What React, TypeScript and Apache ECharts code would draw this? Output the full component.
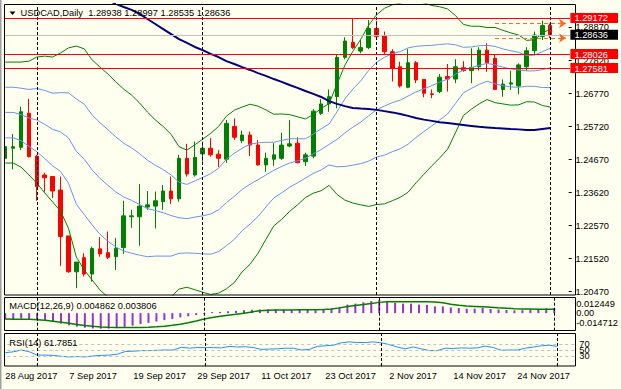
import React, { useEffect, useRef } from 'react';
import * as echarts from 'echarts';

const dates = [
  '28 Aug 2017', '29 Aug 2017', '30 Aug 2017', '31 Aug 2017', '1 Sep 2017', '4 Sep 2017', '5 Sep 2017', '6 Sep 2017', '7 Sep 2017', '8 Sep 2017',
  '11 Sep 2017', '12 Sep 2017', '13 Sep 2017', '14 Sep 2017', '15 Sep 2017', '18 Sep 2017', '19 Sep 2017', '20 Sep 2017', '21 Sep 2017', '22 Sep 2017',
  '25 Sep 2017', '26 Sep 2017', '27 Sep 2017', '28 Sep 2017', '29 Sep 2017', '2 Oct 2017', '3 Oct 2017', '4 Oct 2017', '5 Oct 2017', '6 Oct 2017',
  '9 Oct 2017', '10 Oct 2017', '11 Oct 2017', '12 Oct 2017', '13 Oct 2017', '16 Oct 2017', '17 Oct 2017', '18 Oct 2017', '19 Oct 2017', '20 Oct 2017',
  '23 Oct 2017', '24 Oct 2017', '25 Oct 2017', '26 Oct 2017', '27 Oct 2017', '30 Oct 2017', '31 Oct 2017', '1 Nov 2017', '2 Nov 2017', '3 Nov 2017',
  '6 Nov 2017', '7 Nov 2017', '8 Nov 2017', '9 Nov 2017', '10 Nov 2017', '13 Nov 2017', '14 Nov 2017', '15 Nov 2017', '16 Nov 2017', '17 Nov 2017',
  '20 Nov 2017', '21 Nov 2017', '22 Nov 2017', '23 Nov 2017', '24 Nov 2017', '27 Nov 2017', '28 Nov 2017', '29 Nov 2017', '30 Nov 2017', '1 Dec 2017'
];

const open = [1.2471, 1.2503, 1.2506, 1.2614, 1.2478, 1.2418, 1.2413, 1.2370, 1.2224, 1.2110, 1.2155, 1.2103, 1.2183, 1.2171, 1.2158, 1.2187, 1.2285, 1.2285, 1.2316, 1.2319, 1.2333, 1.2367, 1.2342, 1.2471, 1.2418, 1.2485, 1.2503, 1.2484, 1.2468, 1.2572, 1.2527, 1.2545, 1.2513, 1.2450, 1.2468, 1.2471, 1.2510, 1.2519, 1.2460, 1.2478, 1.2614, 1.2644, 1.2667, 1.2792, 1.2840, 1.2812, 1.2823, 1.2884, 1.2860, 1.2810, 1.2762, 1.2697, 1.2775, 1.2722, 1.2676, 1.2683, 1.2731, 1.2723, 1.2759, 1.2750, 1.2762, 1.2815, 1.2789, 1.2690, 1.2707, 1.2701, 1.2762, 1.2813, 1.2858, 1.28938];
const high = [1.2529, 1.2548, 1.2635, 1.2660, 1.2482, 1.2425, 1.2413, 1.2413, 1.2224, 1.2141, 1.2169, 1.2190, 1.2220, 1.2238, 1.2217, 1.2336, 1.2307, 1.2389, 1.2367, 1.2365, 1.2386, 1.2413, 1.2482, 1.2517, 1.2524, 1.2524, 1.2535, 1.2497, 1.2593, 1.2598, 1.2559, 1.2556, 1.2529, 1.2489, 1.2519, 1.2552, 1.2593, 1.2538, 1.2489, 1.2627, 1.2659, 1.2690, 1.2800, 1.2856, 1.2916, 1.2849, 1.2911, 1.2908, 1.2874, 1.2818, 1.2778, 1.2818, 1.2780, 1.2722, 1.2690, 1.2739, 1.2771, 1.2786, 1.2780, 1.2821, 1.2824, 1.2837, 1.2800, 1.2722, 1.2750, 1.2773, 1.2824, 1.2874, 1.2909, 1.28997];
const low = [1.2443, 1.2436, 1.2497, 1.2474, 1.2336, 1.2365, 1.2345, 1.2129, 1.2107, 1.2058, 1.2095, 1.2079, 1.2158, 1.2150, 1.2116, 1.2167, 1.2250, 1.2193, 1.2307, 1.2248, 1.2307, 1.2326, 1.2333, 1.2413, 1.2413, 1.2460, 1.2476, 1.2444, 1.2457, 1.2529, 1.2519, 1.2478, 1.2448, 1.2428, 1.2447, 1.2466, 1.2506, 1.2455, 1.2447, 1.2471, 1.2609, 1.2619, 1.2630, 1.2786, 1.2818, 1.2805, 1.2818, 1.2856, 1.2800, 1.2715, 1.2696, 1.2694, 1.2710, 1.2665, 1.2662, 1.2678, 1.2683, 1.2710, 1.2746, 1.2710, 1.2750, 1.2746, 1.2688, 1.2667, 1.2688, 1.2675, 1.2750, 1.2803, 1.2847, 1.28535];
const close = [1.2508, 1.2508, 1.2619, 1.2476, 1.2381, 1.2409, 1.2367, 1.2222, 1.2110, 1.2141, 1.2103, 1.2184, 1.2167, 1.2156, 1.2185, 1.2288, 1.2288, 1.2319, 1.2323, 1.2336, 1.2367, 1.2342, 1.2471, 1.2421, 1.2474, 1.2503, 1.2482, 1.2471, 1.2582, 1.2538, 1.2545, 1.2513, 1.2450, 1.2471, 1.2482, 1.2513, 1.2517, 1.2457, 1.2482, 1.2621, 1.2644, 1.2667, 1.2792, 1.2844, 1.2823, 1.2823, 1.2884, 1.2858, 1.2810, 1.2757, 1.2701, 1.2775, 1.2720, 1.2678, 1.2674, 1.2729, 1.2723, 1.2762, 1.2750, 1.2760, 1.2815, 1.2775, 1.2690, 1.2707, 1.2711, 1.2768, 1.2813, 1.2863, 1.2893, 1.28636];

const bbUpper2 = [1.2777, 1.2777, 1.2777, 1.2780, 1.2793, 1.2796, 1.2793, 1.2806, 1.2822, 1.2828, 1.2819, 1.2784, 1.2761, 1.2739, 1.2714, 1.2691, 1.2672, 1.2647, 1.2618, 1.2593, 1.2572, 1.2547, 1.2508, 1.2497, 1.2514, 1.2532, 1.2550, 1.2572, 1.2605, 1.2624, 1.2634, 1.2643, 1.2637, 1.2625, 1.2611, 1.2612, 1.2610, 1.2603, 1.2596, 1.2610, 1.2630, 1.2645, 1.2707, 1.2767, 1.2811, 1.2849, 1.2894, 1.2927, 1.2948, 1.2959, 1.2964, 1.2974, 1.2972, 1.2965, 1.2957, 1.2953, 1.2946, 1.2925, 1.2897, 1.2891, 1.2891, 1.2887, 1.2887, 1.2878, 1.2870, 1.2863, 1.2846, 1.2848, 1.2868, 1.2883];
const bbUpper1 = [1.2697, 1.2697, 1.2694, 1.2690, 1.2693, 1.2687, 1.2678, 1.2680, 1.2679, 1.2660, 1.2643, 1.2609, 1.2584, 1.2562, 1.2539, 1.2519, 1.2504, 1.2486, 1.2465, 1.2449, 1.2435, 1.2418, 1.2395, 1.2388, 1.2399, 1.2410, 1.2422, 1.2439, 1.2468, 1.2487, 1.2503, 1.2516, 1.2520, 1.2522, 1.2522, 1.2528, 1.2533, 1.2533, 1.2533, 1.2548, 1.2565, 1.2580, 1.2619, 1.2660, 1.2691, 1.2717, 1.2750, 1.2776, 1.2792, 1.2804, 1.2810, 1.2822, 1.2827, 1.2829, 1.2830, 1.2833, 1.2835, 1.2832, 1.2824, 1.2825, 1.2829, 1.2830, 1.2827, 1.2819, 1.2813, 1.2808, 1.2798, 1.2799, 1.2810, 1.2821];
const bbMid = [1.2617, 1.2617, 1.2610, 1.2599, 1.2593, 1.2579, 1.2563, 1.2555, 1.2536, 1.2493, 1.2468, 1.2434, 1.2407, 1.2385, 1.2364, 1.2348, 1.2337, 1.2324, 1.2311, 1.2305, 1.2298, 1.2289, 1.2282, 1.2279, 1.2284, 1.2288, 1.2294, 1.2307, 1.2330, 1.2350, 1.2372, 1.2389, 1.2403, 1.2418, 1.2433, 1.2445, 1.2456, 1.2463, 1.2471, 1.2485, 1.2499, 1.2515, 1.2531, 1.2552, 1.2570, 1.2586, 1.2606, 1.2625, 1.2637, 1.2648, 1.2656, 1.2669, 1.2682, 1.2692, 1.2702, 1.2713, 1.2723, 1.2738, 1.2752, 1.2759, 1.2767, 1.2773, 1.2768, 1.2761, 1.2755, 1.2752, 1.2749, 1.2749, 1.2753, 1.2759];
const bbLower1 = [1.2536, 1.2536, 1.2527, 1.2509, 1.2492, 1.2470, 1.2447, 1.2429, 1.2392, 1.2325, 1.2292, 1.2259, 1.2229, 1.2207, 1.2189, 1.2176, 1.2169, 1.2163, 1.2158, 1.2160, 1.2160, 1.2160, 1.2169, 1.2170, 1.2169, 1.2167, 1.2166, 1.2174, 1.2193, 1.2213, 1.2241, 1.2262, 1.2286, 1.2316, 1.2345, 1.2361, 1.2379, 1.2393, 1.2408, 1.2423, 1.2434, 1.2450, 1.2444, 1.2445, 1.2449, 1.2454, 1.2462, 1.2475, 1.2481, 1.2492, 1.2501, 1.2516, 1.2537, 1.2556, 1.2574, 1.2593, 1.2612, 1.2645, 1.2679, 1.2693, 1.2706, 1.2716, 1.2708, 1.2702, 1.2698, 1.2697, 1.2700, 1.2700, 1.2696, 1.2696];
const bbLower2 = [1.2456, 1.2456, 1.2443, 1.2418, 1.2392, 1.2361, 1.2332, 1.2303, 1.2249, 1.2157, 1.2116, 1.2084, 1.2052, 1.2030, 1.2014, 1.2004, 1.2001, 1.2001, 1.2004, 1.2016, 1.2023, 1.2031, 1.2055, 1.2061, 1.2053, 1.2045, 1.2038, 1.2042, 1.2056, 1.2076, 1.2110, 1.2134, 1.2169, 1.2213, 1.2256, 1.2277, 1.2302, 1.2323, 1.2346, 1.2360, 1.2368, 1.2385, 1.2356, 1.2338, 1.2329, 1.2323, 1.2318, 1.2324, 1.2326, 1.2336, 1.2347, 1.2363, 1.2393, 1.2420, 1.2447, 1.2472, 1.2500, 1.2552, 1.2607, 1.2627, 1.2644, 1.2658, 1.2648, 1.2644, 1.2640, 1.2641, 1.2651, 1.2650, 1.2639, 1.2634];
const longMa = [null, null, null, null, null, null, null, null, null, null, null, null, null, 1.2974, 1.2962, 1.2952, 1.2943, 1.2930, 1.2914, 1.2898, 1.2882, 1.2866, 1.2850, 1.2838, 1.2825, 1.2815, 1.2803, 1.2793, 1.2780, 1.2771, 1.2761, 1.2752, 1.2742, 1.2733, 1.2723, 1.2714, 1.2704, 1.2695, 1.2685, 1.2676, 1.2666, 1.2653, 1.2644, 1.2637, 1.2631, 1.2629, 1.2628, 1.2625, 1.2621, 1.2617, 1.2612, 1.2606, 1.2599, 1.2594, 1.2590, 1.2586, 1.2583, 1.2580, 1.2577, 1.2574, 1.2571, 1.2569, 1.2567, 1.2566, 1.2564, 1.2563, 1.2561, 1.2561, 1.2564, 1.2567];

const macdHist = [-0.0060, -0.0060, -0.0052, -0.0055, -0.0066, -0.0074, -0.0082, -0.0098, -0.0115, -0.0128, -0.0138, -0.0145, -0.014712, -0.0146, -0.0142, -0.0130, -0.0118, -0.0104, -0.0092, -0.0079, -0.0066, -0.0056, -0.0040, -0.0030, -0.0018, -0.0008, 0.0010, 0.0012, 0.0018, 0.0022, 0.0028, 0.0032, 0.0035, 0.0035, 0.0035, 0.0033, 0.0032, 0.0030, 0.0030, 0.0028, 0.0030, 0.0042, 0.0058, 0.0081, 0.0090, 0.0103, 0.0113, 0.012449, 0.0110, 0.0097, 0.0090, 0.0090, 0.0081, 0.0078, 0.0064, 0.0064, 0.0054, 0.0049, 0.0042, 0.0042, 0.0049, 0.0039, 0.0034, 0.0030, 0.0026, 0.0028, 0.0036, 0.0040, 0.0045, 0.004862];
const macdSignal = [-0.0056, -0.0057, -0.0058, -0.0058, -0.0062, -0.0068, -0.0076, -0.0085, -0.0095, -0.0107, -0.0117, -0.0125, -0.0130, -0.0133, -0.0135, -0.0136, -0.0136, -0.0135, -0.0133, -0.0129, -0.0123, -0.0115, -0.0104, -0.0091, -0.0074, -0.0055, -0.0042, -0.0030, -0.0019, -0.0010, 0.0000, 0.0012, 0.0022, 0.0027, 0.0029, 0.0030, 0.0031, 0.0032, 0.0032, 0.0033, 0.0034, 0.0039, 0.0050, 0.0064, 0.0073, 0.0081, 0.0092, 0.0102, 0.0107, 0.0108, 0.0108, 0.0108, 0.0108, 0.0107, 0.0105, 0.0098, 0.0085, 0.0075, 0.0068, 0.0064, 0.0060, 0.0055, 0.0050, 0.0046, 0.0042, 0.0040, 0.0039, 0.0038, 0.0038, 0.003806];
const rsi = [41, 44, 50, 44, 33, 33, 32, 29, 27, 28, 27, 30, 32, 33, 36, 45, 46, 48, 48, 49, 50, 50, 59, 56, 58, 58, 58, 57, 62, 60, 61, 58, 52, 53, 54, 56, 56, 50, 52, 62, 64, 66, 74, 77, 75, 75, 77, 74, 68, 60, 54, 60, 54, 48, 48, 56, 55, 57, 56, 57, 63, 58, 49, 50, 50, 56, 60, 64, 66, 61.7851];

const priceTicks = [1.2047, 1.2152, 1.2257, 1.2362, 1.2467, 1.2572, 1.2677, 1.2782, 1.2887];
const levelLines = [1.29172, 1.28026, 1.27581];
const bidPrice = 1.28636;
const barHigh = 1.28997;
const barLow = 1.28535;
const separators = ['1 Sep 2017', '2 Oct 2017', '1 Nov 2017', '1 Dec 2017'];
const macdLabels = [0.012449, 0, -0.014712];
const rsiLabels = [100, 70, 50, 30, 0];
const rsiLevels = [70, 50, 30];

const FONT = 'Liberation Sans, Arial, sans-serif';
const FS = 9.3;
const BG = '#FFFFF0';

export default function App() {
  const ref = useRef<HTMLDivElement>(null);
  useEffect(() => {
    document.body.style.margin = '0';
    const chart = echarts.init(ref.current!, null, { renderer: 'svg' });
    const cats = [...dates, '', ' '];
    const candles = dates.map((_, i) => [open[i], close[i], low[i], high[i]]);
    const markBase = { symbol: 'none', silent: true, label: { show: false }, animation: false, precision: 6 };
    const sepMark = {
      ...markBase,
      lineStyle: { color: '#000', type: [3, 2], width: 1 },
      data: separators.map((d) => ({ xAxis: d })),
    };
    const xAxisBase = (k: number) => ({
      type: 'category', gridIndex: k, data: cats, boundaryGap: true,
      axisLine: { show: false }, axisTick: { show: false }, splitLine: { show: false },
      axisLabel: { show: k === 2, interval: 7, align: 'left', fontSize: FS, fontFamily: FONT, color: '#000', margin: 5 },
    });
    const lineS = (data: any[], color: string, width = 1) => ({
      type: 'line', xAxisIndex: 0, yAxisIndex: 0, data, symbol: 'none', showSymbol: false, silent: true,
      lineStyle: { color, width }, z: 3,
    });
    const option: any = {
      animation: false,
      backgroundColor: BG,
      grid: [
        { left: 1.3, top: 4, width: 576, height: 291 },
        { left: 1.3, top: 297.5, width: 576, height: 33.2 },
        { left: 1.3, top: 333.3, width: 576, height: 32.7 },
      ],
      xAxis: [xAxisBase(0), xAxisBase(1), xAxisBase(2)],
      yAxis: [
        {
          type: 'value', gridIndex: 0, position: 'right', offset: -1.3, min: 1.20363, max: 1.29617, z: 100,
          axisLine: { show: false }, splitLine: { show: false },
          axisTick: { show: true, customValues: priceTicks, length: 3, lineStyle: { color: '#000' } },
          axisLabel: { customValues: priceTicks, formatter: (v: number) => v.toFixed(5), margin: 6.7, fontSize: FS, fontFamily: FONT, color: '#000' },
        },
        {
          type: 'value', gridIndex: 0, position: 'right', offset: -1.3, min: 1.20363, max: 1.29617, z: 101,
          axisLine: { show: false }, splitLine: { show: false }, axisTick: { show: false },
          axisLabel: {
            customValues: [...levelLines, bidPrice], margin: 1.7, fontSize: FS, fontFamily: FONT,
            formatter: (v: number) => (Math.abs(v - bidPrice) < 1e-7 ? `{k|${v.toFixed(5)}}` : `{r|${v.toFixed(5)}}`),
            rich: {
              r: { backgroundColor: '#FF0000', color: '#fff', padding: [1, 10, 0, 4], fontSize: FS, fontFamily: FONT, lineHeight: 9 },
              k: { backgroundColor: '#000', color: '#fff', padding: [1, 10, 0, 4], fontSize: FS, fontFamily: FONT, lineHeight: 9 },
            },
          },
        },
        {
          type: 'value', gridIndex: 1, position: 'right', offset: -1.3, min: -0.016604, max: 0.014815, z: 100,
          axisLine: { show: false }, splitLine: { show: false }, axisTick: { show: false },
          axisLabel: {
            customValues: macdLabels, margin: 3.3, fontSize: FS, fontFamily: FONT, color: '#000',
            formatter: (v: number) => (v === 0 ? '{m|0.00}' : v > 0 ? `{t|${v.toFixed(6)}}` : `{b|${v.toFixed(6)}}`),
            rich: {
              t: { padding: [8.6, 0, 0, 0], fontSize: FS, fontFamily: FONT, color: '#000' },
              b: { padding: [0, 0, 10.8, 0], fontSize: FS, fontFamily: FONT, color: '#000' },
              m: { fontSize: FS, fontFamily: FONT, color: '#000' },
            },
          },
        },
        {
          type: 'value', gridIndex: 2, position: 'right', offset: -1.3, min: -3.333, max: 105.667, z: 100,
          axisLine: { show: false }, splitLine: { show: false }, axisTick: { show: false },
          axisLabel: {
            customValues: rsiLabels, margin: 3.3, fontSize: FS, fontFamily: FONT, color: '#000',
            formatter: (v: number) => (v === 100 ? '{t|100}' : v === 0 ? '{b|0}' : `{m|${v}}`),
            rich: {
              t: { padding: [9, 0, 0, 0], fontSize: FS, fontFamily: FONT, color: '#000' },
              b: { padding: [0, 0, 9, 0], fontSize: FS, fontFamily: FONT, color: '#000' },
              m: { fontSize: FS, fontFamily: FONT, color: '#000' },
            },
          },
        },
      ],
      series: [
        {
          type: 'candlestick', xAxisIndex: 0, yAxisIndex: 0, data: candles, barWidth: 4, silent: true, z: 2,
          itemStyle: { color: '#008000', color0: '#FF0000', borderColor: '#008000', borderColor0: '#FF0000', borderWidth: 1 },
          markLine: sepMark,
        },
        {
          ...lineS(bbMid, '#6495ED'),
          markLine: {
            ...markBase,
            lineStyle: { color: '#FF0000', type: 'solid', width: 1 },
            data: levelLines.map((v) => ({ yAxis: v })),
          },
        },
        {
          ...lineS(bbUpper1, '#6495ED'),
          markLine: {
            ...markBase,
            lineStyle: { color: '#C0C0C0', type: 'solid', width: 1 },
            data: [{ yAxis: bidPrice }],
          },
        },
        lineS(bbLower1, '#6495ED'),
        {
          ...lineS(bbUpper2, '#008000'),
          markLine: {
            ...markBase,
            symbol: ['none', 'arrow'], symbolSize: 7,
            lineStyle: { color: '#FF6A1A', type: [4, 3], width: 1 },
            data: [
              [{ coord: [62, barHigh] }, { coord: [71, barHigh] }],
              [{ coord: [62, barLow] }, { coord: [71, barLow] }],
            ],
          },
        },
        lineS(bbLower2, '#008000'),
        lineS(longMa, '#000080', 2),
        {
          type: 'bar', xAxisIndex: 1, yAxisIndex: 2, data: macdHist, barWidth: 2, silent: true,
          itemStyle: { color: '#9932CC' },
          markLine: sepMark,
        },
        {
          type: 'line', xAxisIndex: 1, yAxisIndex: 2, data: macdSignal, symbol: 'none', showSymbol: false, silent: true,
          lineStyle: { color: '#008000', width: 1.5 }, z: 3,
        },
        {
          type: 'line', xAxisIndex: 2, yAxisIndex: 3, data: rsi, symbol: 'none', showSymbol: false, silent: true,
          lineStyle: { color: '#1E90FF', width: 1 }, z: 3,
          markLine: {
            ...markBase,
            lineStyle: { color: '#C0C0C0', type: [3, 3], width: 1 },
            data: rsiLevels.map((v) => ({ yAxis: v })),
          },
        },
        {
          type: 'line', xAxisIndex: 2, yAxisIndex: 3, data: [], symbol: 'none', silent: true,
          markLine: sepMark,
        },
      ],
      graphic: [
        { type: 'rect', z: 50, silent: true, shape: { x: 0, y: 0, width: 4, height: 389 }, style: { fill: BG } },
        { type: 'rect', z: 50, silent: true, shape: { x: 576.5, y: 0, width: 2, height: 370 }, style: { fill: BG } },
        { type: 'rect', z: 60, silent: true, shape: { x: 0, y: 0, width: 1.5, height: 389 }, style: { fill: '#A0A0A0' } },
        { type: 'rect', z: 60, silent: true, shape: { x: 4.5, y: 4.5, width: 571, height: 290.5 }, style: { fill: 'none', stroke: '#000', lineWidth: 1 } },
        { type: 'rect', z: 60, silent: true, shape: { x: 4.5, y: 297.5, width: 571, height: 33 }, style: { fill: 'none', stroke: '#000', lineWidth: 1 } },
        { type: 'rect', z: 60, silent: true, shape: { x: 4.5, y: 333.5, width: 571, height: 32.5 }, style: { fill: 'none', stroke: '#000', lineWidth: 1 } },
        { type: 'polygon', z: 70, silent: true, shape: { points: [[9.5, 11.5], [15.5, 11.5], [12.5, 15]] }, style: { fill: '#000' } },
        { type: 'text', z: 70, silent: true, x: 20.5, y: 12.8, style: { text: 'USDCAD,Daily  1.28938 1.28997 1.28535 1.28636', fill: '#000', fontSize: FS, fontFamily: FONT, verticalAlign: 'middle' } },
        { type: 'text', z: 70, silent: true, x: 9.3, y: 306, style: { text: 'MACD(12,26,9) 0.004862 0.003806', fill: '#000', fontSize: FS, fontFamily: FONT, verticalAlign: 'middle' } },
        { type: 'text', z: 70, silent: true, x: 9.3, y: 342.7, style: { text: 'RSI(14) 61.7851', fill: '#000', fontSize: FS, fontFamily: FONT, verticalAlign: 'middle' } },
      ],
    };
    chart.setOption(option);
    return () => chart.dispose();
  }, []);
  return <div ref={ref} style={{ width: 621, height: 389 }} />;
}
